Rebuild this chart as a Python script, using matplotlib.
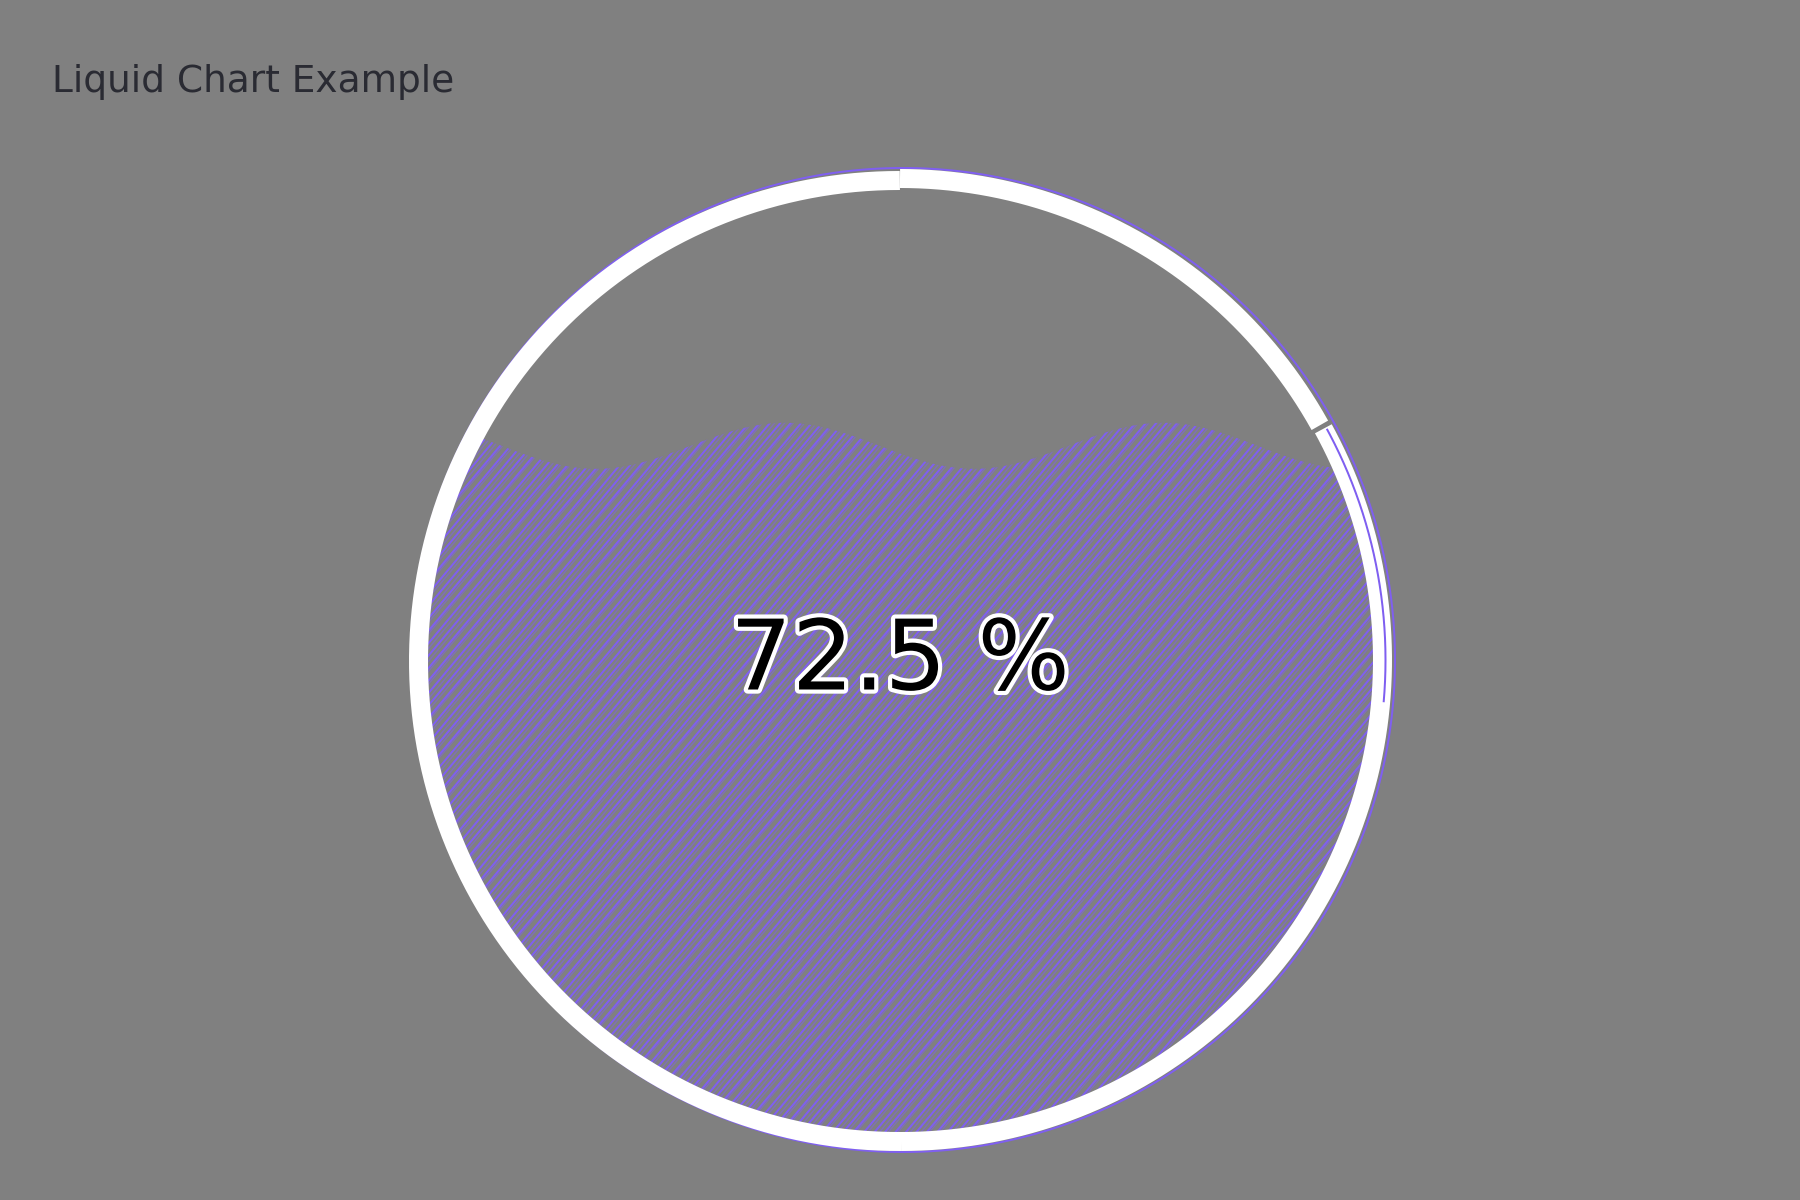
import numpy as np
import matplotlib
matplotlib.use("Agg")
import matplotlib.pyplot as plt
from matplotlib.collections import LineCollection
from matplotlib.patches import Polygon
import matplotlib.patheffects as pe

# ---- data ----
chart_title = "Liquid Chart Example"
liquid_percent = [72.5]
value_label_suffix = " %"

# ---- style ----
BG = "#808080"
PURPLE = "#7f5ff0"
WHITE = "#ffffff"

fig = plt.figure(figsize=(18, 12), dpi=100, facecolor=BG)
ax = fig.add_axes([0, 0, 1, 1])
ax.set_facecolor(BG)
ax.set_xlim(0, 1800)
ax.set_ylim(1200, 0)
ax.set_aspect("equal")
ax.axis("off")

cx, cy = 900.0, 660.0
R_liq = 476.0
R_ring = 480.5
ring_w_px = 19.0
px2pt = 72.0 / 100.0

value = liquid_percent[0] / 100.0

# ---- liquid region ----
level = cy + R_liq * (1 - 2 * value)
amp = 23.0
period = 378.0
crest_x = 785.0
xs = np.linspace(cx - R_liq, cx + R_liq, 800)
dx = xs - cx
half = np.sqrt(np.clip(R_liq ** 2 - dx ** 2, 0, None))
wave = level - amp * np.cos(2 * np.pi * (xs - crest_x) / period)
top = np.maximum(wave, cy - half)
bot = cy + half
verts = np.vstack([np.column_stack([xs, top]), np.column_stack([xs[::-1], bot[::-1]])])
liq_patch = Polygon(verts, closed=True, facecolor="none", edgecolor="none",
                    transform=ax.transData)
ax.add_patch(liq_patch)

# hachure lines (sketch style), drawn at ~50 degrees
ang = np.deg2rad(50)
d = np.array([np.cos(ang), -np.sin(ang)])
nrm = np.array([np.sin(ang), np.cos(ang)])
spacing = 8.0
offs = np.arange(-700, 700, spacing)
segs1, segs2 = [], []
for i, o in enumerate(offs):
    p = np.array([cx, cy]) + nrm * o
    a = p - d * 700
    b = p + d * 700
    segs1.append([a, b])
    j = 1.0 * np.sin(i * 1.7)
    segs2.append([a + nrm * (2.8 + j) + d * (25 * np.sin(i * 0.9)),
                  b + nrm * (2.8 + j) - d * (30 * np.cos(i * 1.3))])
lc1 = LineCollection(segs1, colors=PURPLE, linewidths=2.0 * px2pt, alpha=1.0, zorder=2)
lc2 = LineCollection(segs2, colors=PURPLE, linewidths=1.4 * px2pt, alpha=0.5, zorder=2)
for lc in (lc1, lc2):
    ax.add_collection(lc)
    lc.set_clip_path(liq_patch)

# ---- outline ring ----
def arc(ccx, ccy, r, t0, t1, n=400):
    t = np.deg2rad(np.linspace(t0, t1, n))
    return ccx + r * np.cos(t), ccy - r * np.sin(t)

# purple sketch outline underneath
px_, py_ = arc(cx + 3, cy, 492, 0, 360)
ax.plot(px_, py_, color=PURPLE, lw=2.0 * px2pt, zorder=3, solid_capstyle="butt")

ring_lw = ring_w_px * px2pt
for (ox, oy, r, t0, t1) in [
    (-1, 1, R_ring, 89.9, 270.3),
    (1, 0, R_ring + 1, -90.0, 28.7),
    (0, -1, R_ring, 29.1, 90.0),
]:
    x_, y_ = arc(cx + ox, cy + oy, r, t0, t1)
    ax.plot(x_, y_, color=WHITE, lw=ring_lw, solid_capstyle="butt", zorder=4)

# purple inner stroke just after the break on the right
x_, y_ = arc(cx + 1, cy, R_ring + 4, -5, 28.5)
ax.plot(x_, y_, color=PURPLE, lw=2.0 * px2pt, zorder=5, solid_capstyle="butt")

# ---- labels ----
ax.text(cx, cy + 3, f"{liquid_percent[0]:.1f}{value_label_suffix}",
        ha="center", va="center", fontsize=70, color="black",
        family="DejaVu Sans", zorder=6,
        path_effects=[pe.withStroke(linewidth=6, foreground="white")])

ax.text(52, 92, chart_title, ha="left", va="baseline", fontsize=27,
        color="#2a2b33", family="DejaVu Sans", zorder=6)

fig.savefig("out.png", dpi=100, facecolor=BG)
